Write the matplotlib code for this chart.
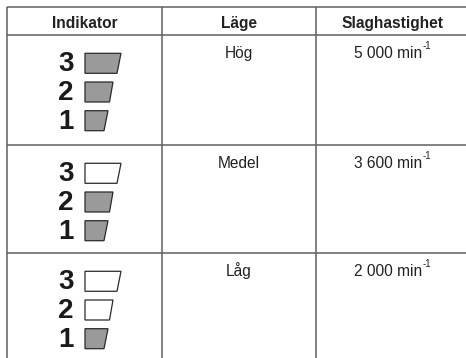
import matplotlib.pyplot as plt
from matplotlib.patches import Polygon

plt.rcParams['font.family'] = ['Liberation Sans', 'DejaVu Sans']

headers = ['Indikator', 'Läge', 'Slaghastighet']
modes = ['Hög', 'Medel', 'Låg']
speeds = ['5 000', '3 600', '2 000']
lit = [3, 2, 1]          # number of filled segments per mode
levels = [3, 2, 1]       # indicator digits, top to bottom

# layout in pixels
W, H = 466, 358
col_x = [7, 162, 316, 470]
row_y = [7, 35, 145, 253, 400]
line_c = '#5f5f5f'
fs = 11.2

fig = plt.figure(figsize=(W / 100, H / 100), dpi=100)
ax = fig.add_axes([0, 0, 1, 1])
ax.set_xlim(0, W)
ax.set_ylim(H, 0)
ax.axis('off')

# grid
for y in row_y[:-1]:
    ax.plot([col_x[0], col_x[-1]], [y, y], color=line_c, lw=1.1, solid_capstyle='butt')
for x in col_x:
    ax.plot([x, x], [row_y[0], row_y[-1]], color=line_c, lw=1.1, solid_capstyle='butt')

# header
for i, h in enumerate(headers):
    ax.text((col_x[i] + col_x[i + 1]) / 2, row_y[1] - 7, h,
            ha='center', va='baseline', fontsize=fs, fontweight='bold', color='#222222')

seg_top = [36, 28, 23]
seg_bot = [32, 24.5, 19]
seg_h = 20
seg_step = 28.7
seg_x0 = 85

for r in range(3):
    top = row_y[r + 1]
    # indicator
    for k, lev in enumerate(levels):
        y0 = top + 18.3 + k * seg_step
        ax.text(66, y0 + seg_h / 2 + 1, str(lev), ha='center', va='center',
                fontsize=20, fontweight='bold', color='#1a1a1a')
        filled = lev <= lit[r]
        pts = [(seg_x0, y0), (seg_x0 + seg_top[k], y0),
               (seg_x0 + seg_bot[k], y0 + seg_h), (seg_x0, y0 + seg_h)]
        ax.add_patch(Polygon(pts, closed=True,
                             facecolor='#9a9a9a' if filled else 'white',
                             edgecolor='#2a2a2a', lw=0.9))
    # mode
    ax.text((col_x[1] + col_x[2]) / 2, top + 23, modes[r], ha='center',
            va='baseline', fontsize=fs, color='#222222')
    # speed
    t = ax.text((col_x[2] + col_x[3]) / 2 - 4.5, top + 23, speeds[r] + ' min',
                ha='center', va='baseline', fontsize=fs, color='#222222')
    ax.annotate('-1', xy=(1, 1), xycoords=t, xytext=(0.3, -3.5),
                textcoords='offset points', ha='left', va='bottom',
                fontsize=7, color='#222222')

fig.savefig('out.png', dpi=100)
